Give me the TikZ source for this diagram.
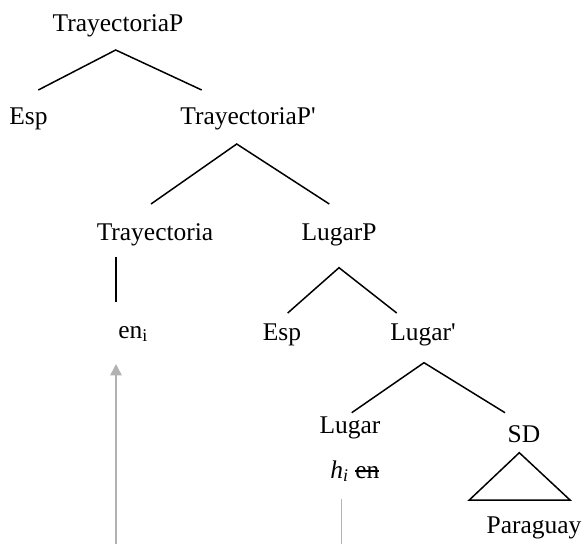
\documentclass[tikz,border=0pt]{standalone}
\usepackage{fontspec}
\setmainfont{Liberation Serif}
\usepackage{tikz}
\usetikzlibrary{arrows.meta}
\newcommand\strikeword[1]{\setbox0\hbox{#1}\rlap{\usebox0}\rule[0.25em]{\wd0}{0.08em}}

\begin{document}
\begin{tikzpicture}[
    x=0.02cm, y=-0.02cm,
    lbl/.style={anchor=base, inner sep=0pt, font=\fontsize{14.5}{17}\selectfont},
    branch/.style={line width=0.85pt},
    trace/.style={draw=gray!60, line width=0.9pt},
    arrow/.style={trace, -{Triangle[width=6.5pt, length=6.5pt]}}
]
    \useasboundingbox (0,0) rectangle (587,544);

    % labels
    \node[lbl] (tp) at (118,32) {TrayectoriaP};
    \node[lbl] (esp1) at (28.5,124) {Esp};
    \node[lbl] (tpbar) at (248,124) {TrayectoriaP\textquotesingle};
    \node[lbl] (tray) at (155,240) {Trayectoria};
    \node[lbl] (lugp) at (339,240) {LugarP};
    \node[lbl, anchor=base west] (eni) at (118,338) {en\textsubscript{i}};
    \node[lbl] (esp2) at (282,340) {Esp};
    \node[lbl] (lugbar) at (423,340) {Lugar\textquotesingle};
    \node[lbl] (lug) at (350,433) {Lugar};
    \node[lbl] (sd) at (524,442) {SD};
    \node[lbl, anchor=base west] (hen) at (330,478) {\textit{h\textsubscript{i}} \strikeword{en}};
    \node[lbl] (par) at (534,533) {Paraguay};

    % branch ends
    \coordinate (tp-a) at (115.7,50);
    \coordinate (esp1-t) at (38.3,90);
    \coordinate (tpbar-t) at (201.7,90);
    \coordinate (tpbar-a) at (236.7,144);
    \coordinate (tray-t) at (151,204);
    \coordinate (lugp-t) at (329.3,204);
    \coordinate (tray-a) at (116,256.7);
    \coordinate (eni-t) at (116,301.7);
    \coordinate (lugp-a) at (339,267.7);
    \coordinate (esp2-t) at (287.7,313);
    \coordinate (lugbar-t) at (396.7,313);
    \coordinate (lugbar-a) at (424,362.7);
    \coordinate (lug-t) at (351.7,412.7);
    \coordinate (sd-t) at (505,412.7);
    \coordinate (sd-a) at (519.3,452.7);
    \coordinate (par-l) at (469.3,500);
    \coordinate (par-r) at (570,500);

    \draw[branch] (esp1-t) -- (tp-a) -- (tpbar-t);
    \draw[branch] (tray-t) -- (tpbar-a) -- (lugp-t);
    \draw[branch] (tray-a) -- (eni-t);
    \draw[branch] (esp2-t) -- (lugp-a) -- (lugbar-t);
    \draw[branch] (lug-t) -- (lugbar-a) -- (sd-t);
    \draw[branch] (sd-a) -- (par-l) -- (par-r) -- cycle;

    % movement traces
    \coordinate (eni-b) at (116,364);
    \coordinate (trace1) at (116,544);
    \coordinate (hen-b) at (341.7,499);
    \coordinate (trace2) at (341.7,544);
    \draw[arrow] (trace1) -- (eni-b);
    \draw[trace] (trace2) -- (hen-b);
\end{tikzpicture}
\end{document}
